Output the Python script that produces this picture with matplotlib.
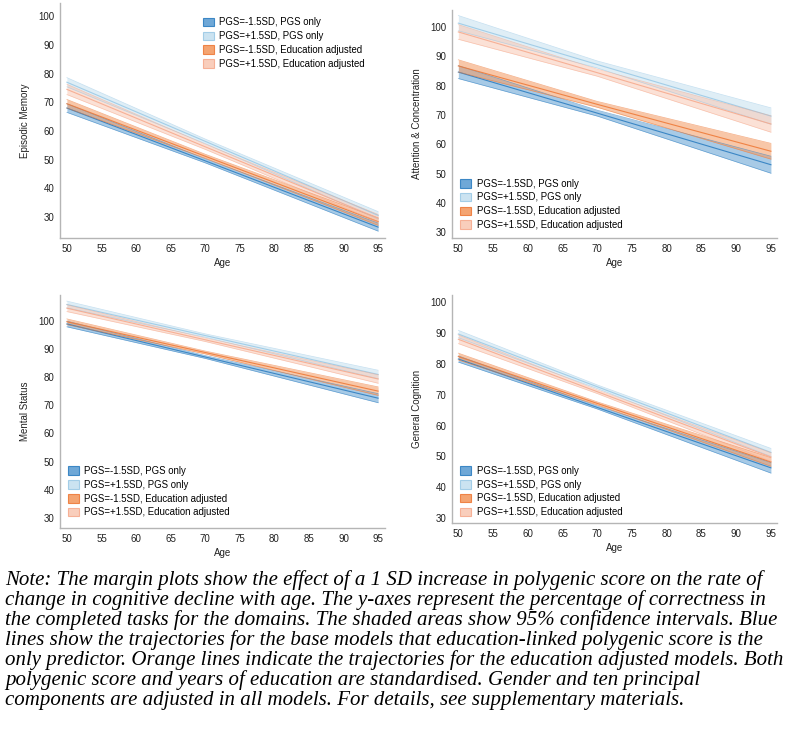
import matplotlib
matplotlib.use("Agg")
import matplotlib.pyplot as plt
from matplotlib.patches import Patch

plt.rcParams['font.family'] = ['Liberation Sans', 'DejaVu Sans']

ages = [50, 70, 95]
xticks = [50, 55, 60, 65, 70, 75, 80, 85, 90, 95]
yticks = [30, 40, 50, 60, 70, 80, 90, 100]

labels = ['PGS=-1.5SD, PGS only', 'PGS=+1.5SD, PGS only',
          'PGS=-1.5SD, Education adjusted', 'PGS=+1.5SD, Education adjusted']
line_colors = ['#2f7fc1', '#9ccae6', '#ee7b3a', '#f6ab8f']
fill_colors = ['#5f9fd3', '#c6e0f0', '#f39a62', '#f9c9b5']

# rows: blue, light blue, orange, light orange
em_mid = [[68.0, 49.6, 26.5], [77.0, 56.4, 30.6], [69.5, 51.2, 28.4], [74.5, 54.5, 29.6]]
em_half = [[1.5, 0.7, 1.4], [1.6, 0.8, 1.3], [1.5, 0.7, 1.3], [1.8, 0.9, 1.3]]

ac_mid = [[84.6, 70.6, 53.0], [101.3, 87.2, 69.6], [86.7, 73.6, 57.6], [98.3, 84.4, 66.9]]
ac_half = [[2.2, 1.0, 2.9], [2.6, 1.2, 2.8], [2.1, 1.0, 2.7], [2.5, 1.2, 2.8]]

ms_mid = [[98.8, 87.1, 72.5], [105.7, 94.7, 80.9], [99.6, 88.7, 75.0], [104.4, 93.2, 79.3]]
ms_half = [[1.0, 0.5, 1.6], [1.2, 0.6, 1.5], [1.0, 0.5, 1.5], [1.2, 0.6, 1.5]]

gc_mid = [[81.6, 65.9, 46.3], [89.7, 72.6, 51.3], [82.4, 67.2, 48.2], [88.0, 71.0, 49.8]]
gc_half = [[1.0, 0.5, 1.7], [1.2, 0.6, 1.3], [1.1, 0.5, 1.4], [1.4, 0.6, 1.4]]

note_lines = [
    "Note: The margin plots show the effect of a 1 SD increase in polygenic score on the rate of",
    "change in cognitive decline with age. The y-axes represent the percentage of correctness in",
    "the completed tasks for the domains. The shaded areas show 95% confidence intervals. Blue",
    "lines show the trajectories for the base models that education-linked polygenic score is the",
    "only predictor. Orange lines indicate the trajectories for the education adjusted models. Both",
    "polygenic score and years of education are standardised. Gender and ten principal",
    "components are adjusted in all models. For details, see supplementary materials.",
]


def draw_panel(ax, mid, half, ylabel, ylim, xlim, legend_loc, legend_anchor):
    for i in range(4):
        lo = [m - h for m, h in zip(mid[i], half[i])]
        hi = [m + h for m, h in zip(mid[i], half[i])]
        ax.fill_between(ages, lo, hi, color=fill_colors[i], alpha=0.55, lw=0)
        ax.plot(ages, lo, color=line_colors[i], lw=0.5, alpha=0.6)
        ax.plot(ages, hi, color=line_colors[i], lw=0.5, alpha=0.6)
        ax.plot(ages, mid[i], color=line_colors[i], lw=0.8, alpha=0.9)
    ax.set_xlim(xlim)
    ax.set_ylim(ylim)
    ax.set_xticks(xticks)
    ax.set_yticks(yticks)
    ax.tick_params(length=0, labelsize=7, labelcolor='#222222', pad=4)
    for s in ['top', 'right']:
        ax.spines[s].set_visible(False)
    for s in ['left', 'bottom']:
        ax.spines[s].set_color('#b5b5b5')
        ax.spines[s].set_linewidth(1.0)
    ax.set_xlabel('Age', fontsize=7, color='#222222', labelpad=3)
    ax.set_ylabel(ylabel, fontsize=7, color='#222222', labelpad=6)
    handles = [Patch(facecolor=fill_colors[i], edgecolor=line_colors[i], lw=0.8, alpha=0.9)
               for i in range(4)]
    ax.legend(handles, labels, loc=legend_loc, bbox_to_anchor=legend_anchor, frameon=False,
              fontsize=6.9, handlelength=1.1, handleheight=1.0, handletextpad=0.6,
              labelspacing=0.4, borderpad=0, borderaxespad=0)


fig = plt.figure(figsize=(7.89, 7.38), dpi=100)

ax1 = fig.add_axes([0.076, 0.6775, 0.412, 0.318])
draw_panel(ax1, em_mid, em_half, 'Episodic Memory', (22.7, 104.5), (49, 96),
           'upper left', (0.44, 0.94))

ax2 = fig.add_axes([0.573, 0.6775, 0.412, 0.309])
draw_panel(ax2, ac_mid, ac_half, 'Attention & Concentration', (28, 105.8), (49.1, 95.9),
           'lower left', (0.025, 0.035))

ax3 = fig.add_axes([0.076, 0.2846, 0.412, 0.3154])
draw_panel(ax3, ms_mid, ms_half, 'Mental Status', (26.5, 109), (49, 96),
           'lower left', (0.025, 0.045))

ax4 = fig.add_axes([0.573, 0.2913, 0.412, 0.3087])
draw_panel(ax4, gc_mid, gc_half, 'General Cognition', (28.4, 102.3), (49.1, 95.9),
           'lower left', (0.025, 0.025))

# note under the panels, one line at a time to keep the original wrapping
for k, line in enumerate(note_lines):
    fig.text(0.006, 1 - (580 + 20 * k) / 738, line, fontsize=15, style='italic',
             family='Liberation Serif', va='center', ha='left', color='black')

fig.savefig('out.png', dpi=100)
